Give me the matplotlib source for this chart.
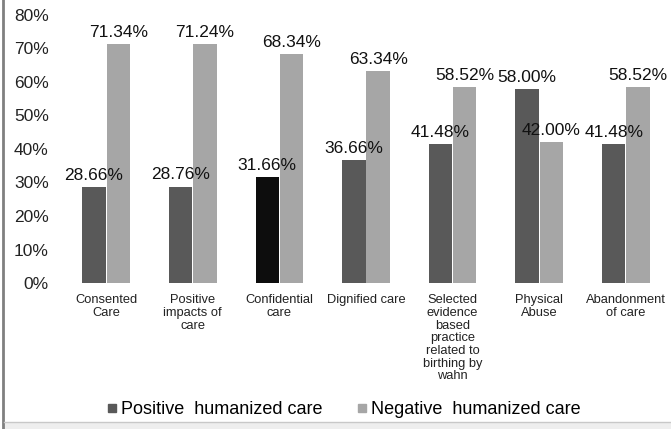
import matplotlib
matplotlib.use("Agg")
import matplotlib.pyplot as plt
from matplotlib.lines import Line2D
from matplotlib.patches import Rectangle
import numpy as np

plt.rcParams["font.family"] = ["Liberation Sans", "DejaVu Sans"]

# dados
categorias = [
    "Consented\nCare",
    "Positive\nimpacts of\ncare",
    "Confidential\ncare",
    "Dignified care",
    "Selected\nevidence\nbased\npractice\nrelated to\nbirthing by\nwahn",
    "Physical\nAbuse",
    "Abandonment\nof care",
]
positivo = [28.66, 28.76, 31.66, 36.66, 41.48, 58.00, 41.48]
negativo = [71.34, 71.24, 68.34, 63.34, 58.52, 42.00, 58.52]
serie_nomes = ["Positive  humanized care", "Negative  humanized care"]

cor_escura = "#595959"
cor_clara = "#a6a6a6"

W, H = 671, 429
fig = plt.figure(figsize=(W / 100, H / 100), dpi=100)
ax = fig.add_axes([62.75 / W, (H - 283) / H, (669.25 - 62.75) / W, (283 - 15) / H])

x = np.arange(len(categorias))
largura = 0.27
cores_pos = [cor_escura] * len(categorias)
cores_pos[2] = "#0d0d0d"

b1 = ax.bar(x - 0.14, positivo, largura, color=cores_pos)
b2 = ax.bar(x + 0.14, negativo, largura, color=cor_clara)

for barras, vals in ((b1, positivo), (b2, negativo)):
    for b, v in zip(barras, vals):
        ax.annotate(f"{v:.2f}%", (b.get_x() + b.get_width() / 2, v),
                    xytext=(0, 3), textcoords="offset points",
                    ha="center", va="bottom", fontsize=12.5, color="#111111")

ax.set_xlim(-0.5, len(categorias) - 0.5)
ax.set_ylim(0, 80)
ax.set_yticks(range(0, 81, 10))
ax.set_yticklabels([f"{t}%" for t in range(0, 81, 10)], fontsize=12.5, color="#222222")
ax.set_xticks(x)
ax.set_xticklabels(categorias, fontsize=9.3, linespacing=1.08, color="#222222", va="top")
ax.tick_params(axis="y", length=0, pad=10)
ax.tick_params(axis="x", length=0, pad=8)
for s in ax.spines.values():
    s.set_visible(False)

handles = [
    Line2D([], [], marker="s", linestyle="none", markersize=6, color=cor_escura),
    Line2D([], [], marker="s", linestyle="none", markersize=6, color=cor_clara),
]
fig.legend(handles, serie_nomes, loc="center", bbox_to_anchor=(343 / W, (H - 410) / H),
           ncol=2, frameon=False, fontsize=13, handletextpad=0.1, columnspacing=1.8,
           handlelength=0.8)

# moldura cortada do gráfico original
fig.add_artist(Line2D([3 / W, 3 / W], [0, 1], color="#808080", lw=2))
fig.add_artist(Rectangle((4 / W, 0), 1, 6 / H, color="#eeeeee", lw=0))
fig.add_artist(Line2D([4 / W, 1], [7 / H, 7 / H], color="#c8c8c8", lw=1))

fig.savefig("out.png", dpi=100)
plt.close(fig)
